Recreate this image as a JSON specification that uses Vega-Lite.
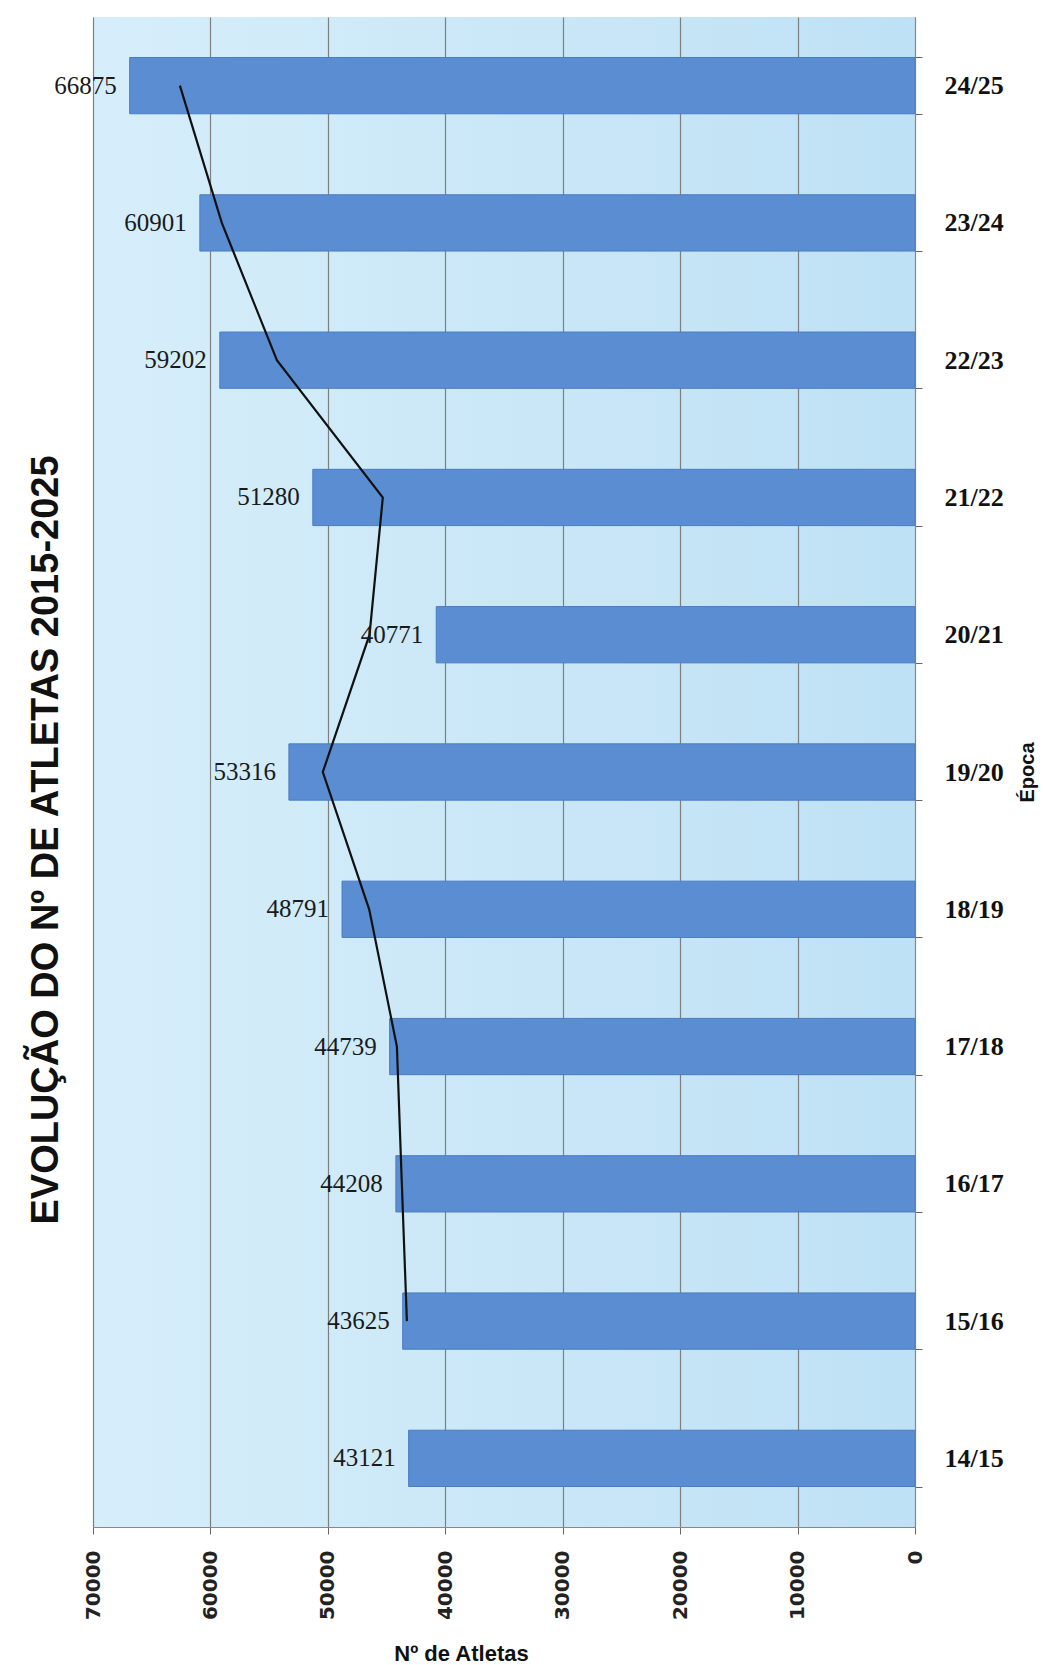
{
  "$schema": "https://vega.github.io/schema/vega-lite/v6.json",
  "width": 822,
  "height": 1510,
  "autosize": {"type": "none"},
  "padding": {"left": 93, "top": 17, "right": 128, "bottom": 138},
  "background": "white",
  "title": {
    "text": "EVOLUÇÃO DO Nº DE ATLETAS 2015-2025",
    "orient": "left",
    "anchor": "middle",
    "font": "Liberation Sans",
    "fontWeight": "bold",
    "fontSize": 38,
    "color": "#111111",
    "offset": -12,
    "dx": -68
  },
  "data": {
    "values": [
      {"epoca": "14/15", "atletas": 43121, "tendencia": null},
      {"epoca": "15/16", "atletas": 43625, "tendencia": 43270},
      {"epoca": "16/17", "atletas": 44208, "tendencia": 43700},
      {"epoca": "17/18", "atletas": 44739, "tendencia": 44120},
      {"epoca": "18/19", "atletas": 48791, "tendencia": 46480},
      {"epoca": "19/20", "atletas": 53316, "tendencia": 50430},
      {"epoca": "20/21", "atletas": 40771, "tendencia": 46450},
      {"epoca": "21/22", "atletas": 51280, "tendencia": 45320},
      {"epoca": "22/23", "atletas": 59202, "tendencia": 54340},
      {"epoca": "23/24", "atletas": 60901, "tendencia": 59030},
      {"epoca": "24/25", "atletas": 66875, "tendencia": 62600}
    ]
  },
  "encoding": {
    "y": {
      "field": "epoca",
      "type": "nominal",
      "sort": "descending",
      "scale": {"paddingInner": 0.59, "paddingOuter": 0.295},
      "axis": {
        "orient": "right",
        "title": "Época",
        "tickBand": "extent",
        "tickSize": 7,
        "tickColor": "#666666",
        "domainColor": "#888888",
        "labelFont": "Liberation Serif",
        "labelFontWeight": "bold",
        "labelFontSize": 26,
        "labelPadding": 22,
        "labelAngle": 0,
        "labelColor": "#111111",
        "titleFont": "Liberation Sans",
        "titleFontWeight": "bold",
        "titleFontSize": 20,
        "titleColor": "#111111",
        "titleAngle": 270,
        "titleX": 112,
        "titleY": 755,
        "titleBaseline": "middle",
        "titleAlign": "center"
      }
    }
  },
  "layer": [
    {
      "mark": {"type": "bar", "color": "#5b8dd2", "stroke": "#4a7cc2", "strokeWidth": 1},
      "encoding": {
        "x": {
          "field": "atletas",
          "type": "quantitative",
          "title": "Nº de Atletas",
          "scale": {"domain": [0, 70000], "reverse": true},
          "axis": {
            "values": [0, 10000, 20000, 30000, 40000, 50000, 60000, 70000],
            "format": "d",
            "labelAngle": 270,
            "labelFont": "DejaVu Sans",
            "labelFontWeight": "bold",
            "labelFontSize": 20,
            "labelColor": "#222222",
            "labelPadding": 16,
            "tickSize": 7,
            "tickColor": "#666666",
            "domainColor": "#888888",
            "grid": true,
            "gridColor": "#7f7f7f",
            "gridWidth": 1.2,
            "titleFont": "Liberation Sans",
            "titleFontWeight": "bold",
            "titleFontSize": 22,
            "titleColor": "#111111",
            "titleX": 368,
            "titleY": 133,
            "titleBaseline": "alphabetic",
            "titleAlign": "center"
          }
        }
      }
    },
    {
      "mark": {"type": "line", "color": "#111111", "strokeWidth": 2.2},
      "encoding": {
        "x": {
          "field": "tendencia",
          "type": "quantitative",
          "title": "Nº de Atletas",
          "scale": {"domain": [0, 70000], "reverse": true}
        }
      }
    },
    {
      "mark": {
        "type": "text",
        "align": "right",
        "baseline": "middle",
        "dx": -13,
        "font": "Liberation Serif",
        "fontSize": 25,
        "color": "#1a1a1a"
      },
      "encoding": {
        "x": {
          "field": "atletas",
          "type": "quantitative",
          "title": "Nº de Atletas",
          "scale": {"domain": [0, 70000], "reverse": true}
        },
        "text": {"field": "atletas", "type": "quantitative", "format": "d"}
      }
    }
  ],
  "config": {
    "view": {
      "stroke": null,
      "fill": {
        "gradient": "linear",
        "x1": 0, "y1": 0, "x2": 1, "y2": 0,
        "stops": [
          {"offset": 0, "color": "#d6eefa"},
          {"offset": 1, "color": "#bfe1f5"}
        ]
      }
    }
  }
}
